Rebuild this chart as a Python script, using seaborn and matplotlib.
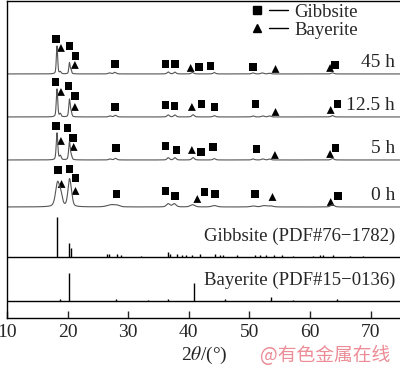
import numpy as np
import pandas as pd
import matplotlib
matplotlib.use("Agg")
import matplotlib.pyplot as plt
import seaborn as sns
from matplotlib.lines import Line2D
from matplotlib.legend_handler import HandlerTuple

sns.set_theme(style="white")
plt.rcParams.update({
    'font.family': ['Liberation Serif', 'DejaVu Serif'],
    'mathtext.fontset': 'stix',
    'font.size': 13,
    'axes.edgecolor': 'black',
    'axes.linewidth': 1.0,
})

# --- datos ---
muestras = ["0 h", "5 h", "12.5 h", "45 h"]
base_muestra = [111, 158, 201, 244]

# picos de cada difractograma: (2theta, altura, anchura)
picos_0h = [(18.35, 24, 0.8), (18.9, 9, 0.6), (20.3, 26, 0.6), (20.65, 6, 0.5),
            (27.2, 2.2, 1.6), (28.2, 1.2, 1.0), (36.6, 3.2, 0.7), (37.6, 3.2, 0.7),
            (40.6, 2.2, 0.9), (44.2, 1.4, 1.0), (50.6, 1.0, 1.0), (52.4, 1.3, 1.0),
            (53.5, 1.0, 1.0), (63.7, 2.3, 0.7)]
picos_5h = [(18.25, 27, 0.3), (18.8, 4, 0.35), (20.3, 18, 0.3), (20.6, 4, 0.3),
            (27.0, 1.0, 0.5), (27.9, 1.6, 0.5), (36.6, 2.3, 0.45), (37.7, 2.3, 0.45),
            (40.7, 2.3, 0.5), (44.2, 1.3, 0.5), (50.6, 1.0, 0.5), (52.2, 1.0, 0.5),
            (53.3, 0.9, 0.5), (63.7, 1.6, 0.5)]
picos_12h = [(18.25, 28, 0.28), (18.8, 3, 0.3), (20.3, 17, 0.27), (20.55, 5, 0.3),
             (27.0, 1.0, 0.5), (27.9, 1.6, 0.5), (36.6, 2.0, 0.45), (37.7, 2.0, 0.45),
             (40.7, 2.2, 0.5), (44.2, 1.3, 0.5), (50.6, 1.0, 0.5), (52.2, 1.0, 0.5),
             (53.3, 1.0, 0.5), (63.7, 1.4, 0.5)]
picos_45h = [(18.25, 28, 0.26), (18.8, 2, 0.3), (20.3, 11, 0.24), (20.55, 4, 0.25),
             (26.9, 1.0, 0.5), (27.8, 1.6, 0.5), (36.6, 2.0, 0.45), (37.7, 1.8, 0.45),
             (40.6, 1.4, 0.5), (44.2, 1.3, 0.5), (50.6, 1.0, 0.5), (52.1, 1.0, 0.5),
             (53.3, 0.7, 0.5), (63.7, 1.1, 0.5)]
picos_muestras = [picos_0h, picos_5h, picos_12h, picos_45h]

# marcadores: (2theta, altura sobre la linea base)
gibbsita_0h = [(18.4, 37), (20.3, 38), (21.3, 29), (28.1, 13), (36.2, 16), (37.7, 11),
               (42.6, 15), (44.3, 13), (50.9, 13), (64.6, 11)]
bayerita_0h = [(19.0, 23), (21.3, 16), (41.4, 8), (53.8, 10), (63.4, 5)]
gibbsita_5h = [(18.1, 34), (20.0, 32), (20.9, 22), (28.0, 12), (36.2, 14), (38.0, 10),
               (42.0, 8), (44.0, 13), (51.2, 11), (64.2, 12)]
bayerita_5h = [(18.9, 19), (21.0, 13), (40.5, 10), (54.2, 5), (63.3, 6)]
gibbsita_12h = [(18.0, 35), (20.1, 31), (21.2, 21), (27.8, 10), (36.1, 12), (37.6, 11),
                (42.1, 13), (44.2, 10), (51.0, 13), (64.5, 13)]
bayerita_12h = [(18.9, 25), (21.2, 10), (40.5, 10), (54.3, 5), (63.4, 7)]
gibbsita_45h = [(18.1, 35), (20.3, 28), (21.3, 18), (27.8, 10), (36.1, 10), (37.7, 10),
                (41.7, 7), (43.6, 8), (50.6, 7), (64.1, 9)]
bayerita_45h = [(18.9, 26), (21.2, 9), (40.3, 6), (54.3, 5), (63.3, 6)]
marcas_gibbsita = [gibbsita_0h, gibbsita_5h, gibbsita_12h, gibbsita_45h]
marcas_bayerita = [bayerita_0h, bayerita_5h, bayerita_12h, bayerita_45h]

# patrones de referencia (PDF)
gibbsita_pdf_2t = [18.3, 20.3, 20.55, 26.55, 26.9, 28.1, 28.8, 32.1, 36.6, 36.9, 38.0,
                   38.8, 39.6, 40.5, 41.8, 44.3, 45.1, 45.7, 47.9, 50.9, 51.7, 52.7,
                   54.1, 55.3, 57.2, 60.5, 61.7, 62.1, 63.8, 66.6, 68.7]
gibbsita_pdf_h = [40, 14, 9, 3, 3, 3, 2, 1, 5, 3, 3, 2, 2, 2, 3, 3, 2, 2, 1.5, 2, 2, 1.5,
                  2, 1.5, 1, 1, 1.5, 1.5, 1.5, 1, 1]
bayerita_pdf_2t = [18.75, 20.3, 28.0, 33.3, 36.6, 40.9, 46.0, 53.5, 57.2, 64.4]
bayerita_pdf_h = [2, 28, 2, 1, 2, 18, 1.5, 4, 1, 1.5]
base_gibbsita = 61
base_bayerita = 17.5

etiqueta_gibbsita = "Gibbsite (PDF#76\u22121782)"
etiqueta_bayerita = "Bayerite (PDF#15\u22120136)"


def patron(x, picos, eta=0.4):
    # suma de picos pseudo-Voigt
    y = np.zeros_like(x)
    for pos, alt, ancho in picos:
        g = (ancho / 2) ** 2
        lor = g / ((x - pos) ** 2 + g)
        gau = np.exp(-4 * np.log(2) * (x - pos) ** 2 / ancho ** 2)
        y += alt * (eta * lor + (1 - eta) * gau)
    return y


fig = plt.figure(figsize=(4, 3.7), dpi=100)
ax = fig.add_axes([0.0175, 0.1405, 0.985, 0.857])

x = np.linspace(10, 75, 4000)
for nombre, base, picos in zip(muestras, base_muestra, picos_muestras):
    sns.lineplot(x=x, y=base + patron(x, picos), ax=ax, color='#555555',
                 linewidth=0.8, estimator=None)
    ax.text(74.0, base + 11.5, nombre, ha='right', va='center', fontsize=14)

for base, gib, bay in zip(base_muestra, marcas_gibbsita, marcas_bayerita):
    dg = pd.DataFrame(gib, columns=['t', 'h'])
    db = pd.DataFrame(bay, columns=['t', 'h'])
    sns.scatterplot(x=dg['t'], y=base + dg['h'], ax=ax, marker='s', s=28,
                    color='black', edgecolor='none')
    sns.scatterplot(x=db['t'], y=base + db['h'], ax=ax, marker='^', s=32,
                    color='black', edgecolor='none')

# referencias
ax.axhline(base_gibbsita, color='black', lw=1.0)
ax.axhline(base_bayerita, color='black', lw=1.0)
ax.vlines(gibbsita_pdf_2t, base_gibbsita, base_gibbsita + np.array(gibbsita_pdf_h),
          color='black', lw=1.0)
ax.vlines(bayerita_pdf_2t, base_bayerita, base_bayerita + np.array(bayerita_pdf_h),
          color='black', lw=1.0)
ax.text(74.0, base_gibbsita + 21, etiqueta_gibbsita, ha='right', va='center', fontsize=13.5)
ax.text(74.0, base_bayerita + 20.5, etiqueta_bayerita, ha='right', va='center', fontsize=13.5)

ax.set_xlim(10, 75)
ax.set_ylim(0, 317)
ax.set_xticks([10, 20, 30, 40, 50, 60, 70])
ax.set_yticks([])
ax.tick_params(axis='x', direction='in', length=5, width=1, labelsize=14, pad=4,
               bottom=True)
ax.set_xlabel(r"2$\theta$/(°)", fontsize=14, labelpad=3)
ax.set_ylabel("")

# leyenda
linea = Line2D([], [], color='black', lw=1.0)
cuadro = Line2D([], [], marker='s', ls='none', color='black', ms=5.5)
triang = Line2D([], [], marker='^', ls='none', color='black', ms=6)
ax.legend(handles=[(cuadro, linea), (triang, linea)], labels=["Gibbsite", "Bayerite"],
          handler_map={tuple: HandlerTuple(ndivide=None, pad=0.1)},
          handlelength=2.2, handletextpad=0.3, labelspacing=0.05, frameon=False,
          borderpad=0, borderaxespad=0, fontsize=13.5,
          loc='upper right', bbox_to_anchor=(0.89, 0.992))

fig.text(0.975, 0.038, "@有色金属在线", ha='right', va='center', color='#ec8c96',
         fontsize=13.5, family=['Noto Sans CJK SC', 'DejaVu Sans'])

fig.savefig("out.png", dpi=100)
